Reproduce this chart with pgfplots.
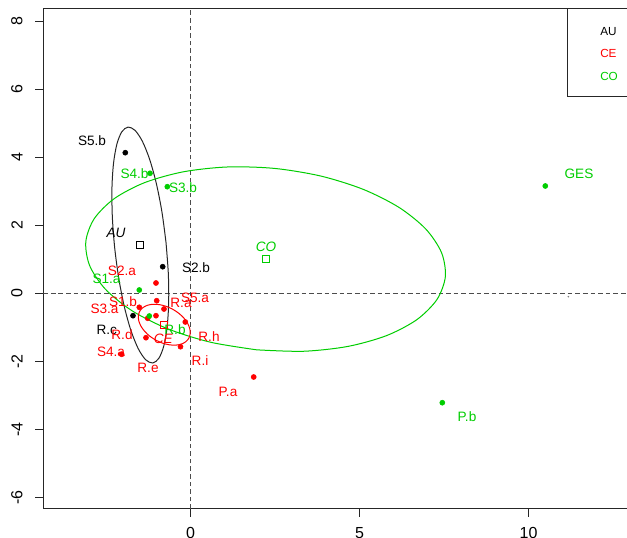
\documentclass[border=0pt]{standalone}
\usepackage{pgfplots}
\pgfplotsset{compat=1.18}
\usepackage{fontspec}
\setmainfont{Liberation Sans}
\definecolor{rgreen}{HTML}{00CD00}
\definecolor{rred}{HTML}{FF0000}
\newcommand\lbl{\fontsize{10.2}{12}\selectfont}

\pgfplotstableread{
x y lab
-2.914 4.479 S5.b
0.163 0.744 S2.b
-2.479 -1.079 R.c
}\AUlab
\pgfplotstableread{
x y lab
-2.027 0.656 S2.a
-1.997 -0.256 S1.b
-2.544 -0.462 S3.a
-0.281 -0.285 R.a
0.133 -0.124 S5.a
-2.027 -1.226 R.d
0.547 -1.271 R.h
0.281 -1.991 R.i
-1.257 -2.197 R.e
-2.352 -1.726 S4.a
1.109 -2.888 P.a
}\CElab
\pgfplotstableread{
x y lab
-1.657 3.509 S4.b
-0.222 3.097 S3.b
-2.485 0.421 S1.a
-0.459 -1.079 R.b
11.494 3.509 GES
8.180 -3.624 P.b
}\COlab

\begin{document}
\begin{tikzpicture}
\begin{axis}[
  x=25.35pt, y=25.5pt,
  xmin=-4.355, xmax=13.2, ymin=-6.344, ymax=8.362,
  axis line style={black!85, line width=0.75pt},
  xtick={0,5,10}, ytick={-6,-4,...,8},
  tick pos=left, tick align=outside,
  major tick length=6pt,
  tick style={black!85, line width=0.75pt},
  /pgf/number format/assume math mode=true,
  ticklabel style={font=\fontsize{12}{14}\selectfont},
  yticklabel style={rotate=90, anchor=south},
  xticklabel shift=4pt, yticklabel shift=6pt,
]
% reference lines
\addplot[black!70, line width=0.7pt, dash pattern=on 3.5pt off 2.2pt] coordinates {(0,-6.344) (0,8.362)};
\addplot[black!70, line width=0.7pt, dash pattern=on 3.5pt off 2.2pt] coordinates {(-4.355,0) (13.2,0)};

% ellipses
\addplot[black!85, line width=0.75pt, smooth] coordinates {
(-0.725,1.498) (-0.657,0.597) (-0.645,-0.248) (-0.690,-0.979) (-0.789,-1.546)
(-0.936,-1.912) (-1.120,-2.050) (-1.329,-1.952) (-1.548,-1.625) (-1.764,-1.090)
(-1.960,-0.384) (-2.123,0.445) (-2.243,1.340) (-2.312,2.241) (-2.324,3.086)
(-2.278,3.817) (-2.179,4.384) (-2.032,4.750) (-1.848,4.888) (-1.639,4.790)
(-1.420,4.463) (-1.205,3.928) (-1.009,3.222) (-0.845,2.393) (-0.725,1.498)};
\addplot[rgreen, line width=0.75pt, smooth] coordinates {
(1.960,-1.663) (0.592,-1.439) (-0.664,-1.048) (-1.724,-0.517) (-2.515,0.118)
(-2.983,0.813) (-3.097,1.521) (-2.848,2.194) (-2.253,2.786) (-1.354,3.256)
(-0.211,3.573) (1.098,3.715) (2.483,3.673) (3.851,3.449) (5.107,3.058)
(6.167,2.527) (6.958,1.893) (7.426,1.198) (7.540,0.489) (7.291,-0.184)
(6.696,-0.776) (5.797,-1.246) (4.654,-1.563) (3.345,-1.705) (1.960,-1.663)};
\addplot[rred, line width=0.75pt, smooth] coordinates {
(-1.026,-1.378) (-1.206,-1.260) (-1.356,-1.119) (-1.467,-0.965) (-1.530,-0.809)
(-1.543,-0.660) (-1.503,-0.529) (-1.413,-0.425) (-1.280,-0.355) (-1.113,-0.323)
(-0.923,-0.333) (-0.722,-0.383) (-0.526,-0.470) (-0.346,-0.588) (-0.196,-0.729)
(-0.085,-0.883) (-0.022,-1.040) (-0.009,-1.188) (-0.049,-1.320) (-0.139,-1.424)
(-0.272,-1.494) (-0.439,-1.525) (-0.629,-1.515) (-0.830,-1.465) (-1.026,-1.378)};

% points
\addplot[only marks, mark=*, mark size=1.9pt, black] coordinates {
(-1.929,4.135) (-0.822,0.782) (-1.701,-0.659)};
\addplot[only marks, mark=*, mark size=1.9pt, rred] coordinates {
(-1.021,0.303) (-1.000,-0.218) (-1.515,-0.412) (-0.784,-0.462) (-1.021,-0.659)
(-1.266,-0.735) (-0.154,-0.844) (-1.317,-1.306) (-0.296,-1.571) (-2.036,-1.794)
(1.870,-2.462)};
\addplot[only marks, mark=*, mark size=1.9pt, rgreen] coordinates {
(-1.198,3.529) (-0.686,3.135) (-1.515,0.097) (-1.219,-0.668) (10.497,3.156)
(7.450,-3.218)};
\addplot[only marks, mark=*, mark size=0.4pt, black!50] coordinates {(11.18,-0.10)};

% centroids
\addplot[only marks, mark=square, mark size=2.6pt, black, mark options={line width=0.75pt}] coordinates {(-1.484,1.419)};
\addplot[only marks, mark=square, mark size=2.6pt, rred, mark options={line width=0.75pt}] coordinates {(-0.776,-0.924)};
\addplot[only marks, mark=square, mark size=2.6pt, rgreen, mark options={line width=0.75pt}] coordinates {(2.2215,1.005)};

% labels
\addplot[draw=none, mark=none, nodes near coords, point meta=explicit symbolic,
  nodes near coords style={anchor=center, font=\lbl, text=black, inner sep=0pt}]
  table[meta=lab] {\AUlab};
\addplot[draw=none, mark=none, nodes near coords, point meta=explicit symbolic,
  nodes near coords style={anchor=center, font=\lbl, text=rred, inner sep=0pt}]
  table[meta=lab] {\CElab};
\addplot[draw=none, mark=none, nodes near coords, point meta=explicit symbolic,
  nodes near coords style={anchor=center, font=\lbl, text=rgreen, inner sep=0pt}]
  table[meta=lab] {\COlab};

\node[font=\lbl\itshape, text=black, inner sep=0pt] at (axis cs:-2.204,1.782) {AU};
\node[font=\lbl\itshape, text=rred, inner sep=0pt] at (axis cs:-0.805,-1.344) {CE};
\node[font=\lbl\itshape, text=rgreen, inner sep=0pt] at (axis cs:2.234,1.362) {CO};

% legend
\draw[black!85, line width=0.75pt] (axis cs:11.139,5.774) rectangle (axis cs:13.2,8.362);
\node[anchor=west, inner sep=0pt, font=\fontsize{8.8}{10}\selectfont, text=black] at (axis cs:12.115,7.685) {AU};
\node[anchor=west, inner sep=0pt, font=\fontsize{8.8}{10}\selectfont, text=rred] at (axis cs:12.115,7.068) {CE};
\node[anchor=west, inner sep=0pt, font=\fontsize{8.8}{10}\selectfont, text=rgreen] at (axis cs:12.115,6.391) {CO};

\coordinate (bbl) at (axis cs:-5.636,-7.168);
\coordinate (btr) at (axis cs:12.914,8.626);
\end{axis}
\pgfresetboundingbox
\path[use as bounding box] (bbl) rectangle (btr);
\end{tikzpicture}
\end{document}
